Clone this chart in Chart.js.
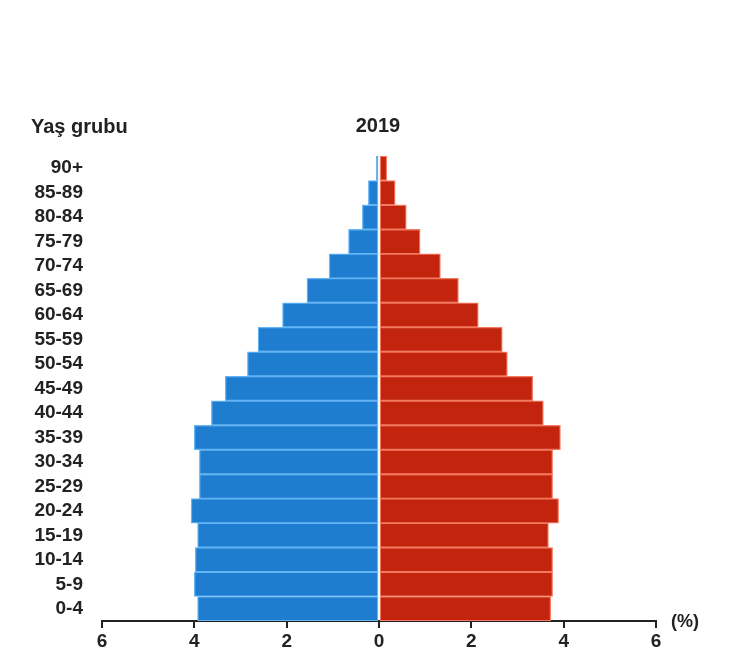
<!DOCTYPE html>
<html lang="tr">
<head>
<meta charset="utf-8">
<title>Yaş grubu 2019</title>
<script src="https://cdn.jsdelivr.net/npm/chart.js@4.4.1/dist/chart.umd.min.js"></script>
<style>
  html, body { margin: 0; padding: 0; background: #fff; }
  #wrap { position: relative; width: 750px; height: 662px; }
  .lbl { position: absolute; font-family: "Liberation Sans", Arial, sans-serif; font-weight: bold; color: #222; white-space: nowrap; }
  #baslik-yas { left: 31px; top: 115px; font-size: 20px; }
  #baslik-yil { left: 378px; top: 114px; font-size: 20px; transform: translateX(-50%); }
  #birim      { left: 671px; top: 611px; font-size: 18px; }
</style>
</head>
<body>
<div id="wrap">
  <canvas id="piramit" width="750" height="662"></canvas>
  <div class="lbl" id="baslik-yas">Yaş grubu</div>
  <div class="lbl" id="baslik-yil">2019</div>
  <div class="lbl" id="birim">(%)</div>
</div>
<script>
// ─── Veriler (üstten alta) ────────────────────────────────────────────────────
const yasGruplari = ['90+', '85-89', '80-84', '75-79', '70-74', '65-69', '60-64', '55-59', '50-54',
                     '45-49', '40-44', '35-39', '30-34', '25-29', '20-24', '15-19', '10-14', '5-9', '0-4'];

// Erkek (sol, mavi) — yüzde
const erkek = [0.06, 0.23, 0.36, 0.66, 1.08, 1.56, 2.09, 2.62, 2.85,
               3.33, 3.63, 4.00, 3.89, 3.89, 4.07, 3.93, 3.98, 4.00, 3.93];

// Kadın (sağ, kırmızı) — yüzde
const kadin = [0.17, 0.35, 0.59, 0.89, 1.33, 1.72, 2.15, 2.67, 2.78,
               3.33, 3.56, 3.93, 3.76, 3.76, 3.89, 3.67, 3.76, 3.76, 3.72];

const eksenMin = -6;
const eksenMax = 6;
const eksenAdim = 2;

// ─── Grafik ───────────────────────────────────────────────────────────────────
const yazi = { family: '"Liberation Sans", Arial, sans-serif', size: 19, weight: 'bold' };

new Chart(document.getElementById('piramit'), {
  type: 'bar',
  data: {
    labels: yasGruplari,
    datasets: [
      {
        label: 'Erkek',
        data: erkek.map(v => -v),
        backgroundColor: '#1f7dd0',
        borderColor: '#64b5f4',
        borderWidth: 1.3,
        borderSkipped: false,
      },
      {
        label: 'Kadın',
        data: kadin,
        backgroundColor: '#c2240e',
        borderColor: '#f37a60',
        borderWidth: 1.3,
        borderSkipped: false,
      },
    ],
  },
  options: {
    indexAxis: 'y',
    responsive: false,
    animation: false,
    layout: { padding: { top: 156, right: 94, left: 0, bottom: 0 } },
    plugins: { legend: { display: false }, tooltip: { enabled: false } },
    datasets: { bar: { barPercentage: 1, categoryPercentage: 1 } },
    scales: {
      x: {
        stacked: true,
        min: eksenMin,
        max: eksenMax,
        ticks: {
          stepSize: eksenAdim,
          callback: v => Math.abs(v),
          color: '#222',
          font: yazi,
          padding: 2,
        },
        grid: { drawOnChartArea: false, drawTicks: true, tickLength: 7, color: '#222', lineWidth: 2 },
        border: { display: true, color: '#222', width: 2 },
        afterFit: s => { s.height = 41; },
      },
      y: {
        stacked: true,
        ticks: { color: '#222', font: yazi, padding: 19, autoSkip: false },
        grid: { display: false, drawTicks: false },
        border: { display: false },
        afterFit: s => { s.width = 102; },
      },
    },
  },
});
</script>
</body>
</html>
